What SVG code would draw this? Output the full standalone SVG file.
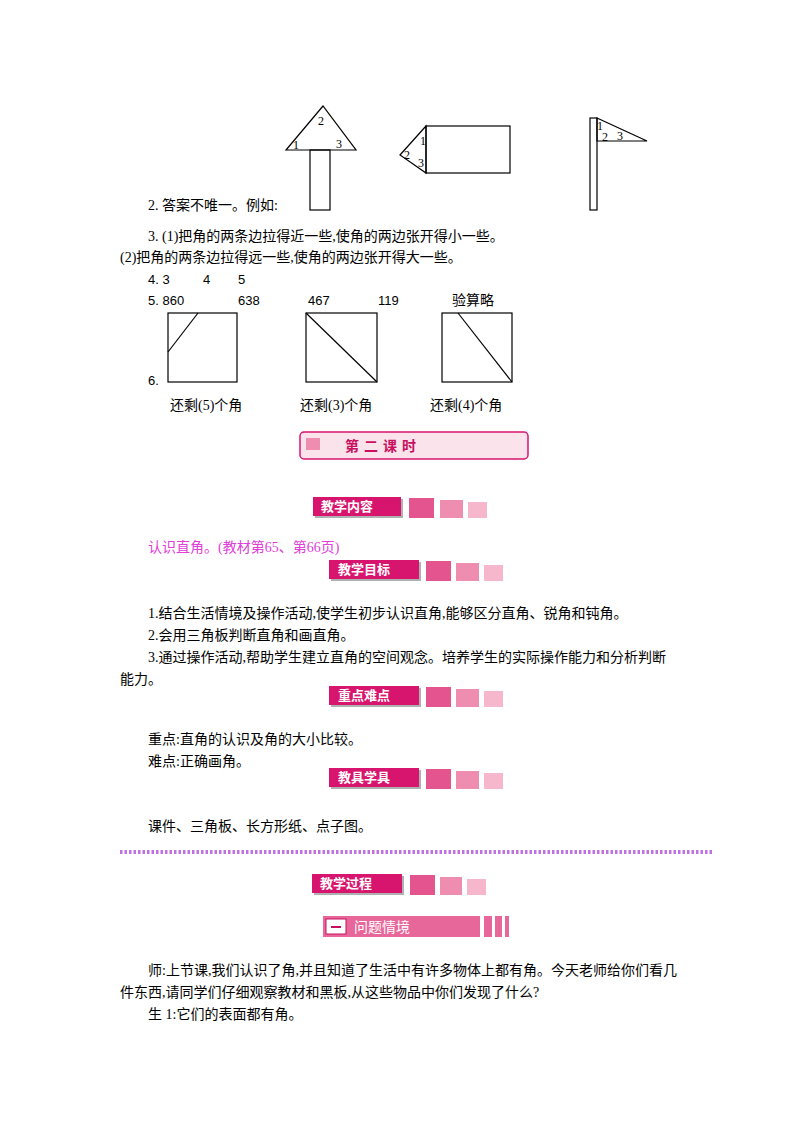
<svg xmlns="http://www.w3.org/2000/svg" width="800" height="1132" viewBox="0 0 800 1132">
<style>
text{font-family:"Liberation Serif","Noto Sans CJK SC",serif;font-size:14px;fill:#000}
.s{font-family:"Liberation Sans","Noto Sans CJK SC",sans-serif;font-size:13px}
.f{fill:none;stroke:#000;stroke-width:1.2}
.n{font-size:12px}
.hd{fill:#d8156e}
.ht{font-family:"Noto Sans CJK SC",sans-serif;font-size:13px;fill:#fff;font-weight:bold}
.q1{fill:#e45590}.q2{fill:#ef8db0}.q3{fill:#f6b7cd}
.sh{fill:#b0b0b0}
</style>
<rect width="800" height="1132" fill="#fff"/>
<g id="fig1">
<polygon class="f" points="323,106 286,150 356,150"/>
<rect class="f" x="310" y="150" width="20" height="60"/>
<text class="n" x="293" y="149">1</text><text class="n" x="318" y="125">2</text><text class="n" x="336" y="148">3</text>
</g>
<g id="fig2">
<polygon class="f" points="426,126 400,155 426,173"/>
<rect class="f" x="426" y="126" width="84" height="47"/>
<text class="n" x="420" y="145">1</text><text class="n" x="404" y="159">2</text><text class="n" x="418" y="167">3</text>
</g>
<g id="fig3">
<rect class="f" x="590" y="118" width="7" height="92"/>
<polygon class="f" points="597,118 647,141 597,141"/>
<text class="n" x="597" y="130">1</text><text class="n" x="602" y="141">2</text><text class="n" x="617" y="140">3</text>
</g>
<text x="148" y="210">2. 答案不唯一。例如:</text>
<text x="148" y="241">3. (1)把角的两条边拉得近一些,使角的两边张开得小一些。</text>
<text x="120" y="262">(2)把角的两条边拉得远一些,使角的两边张开得大一些。</text>
<text class="s" x="148" y="284">4. 3</text>
<text class="s" x="203" y="284">4</text>
<text class="s" x="238" y="284">5</text>
<text class="s" x="148" y="305">5. 860</text>
<text class="s" x="238" y="305">638</text>
<text class="s" x="308" y="305">467</text>
<text class="s" x="378" y="305">119</text>
<text x="452" y="305">验算略</text>
<g id="sq1"><rect class="f" x="168" y="313" width="69" height="69"/><line class="f" x1="198" y1="313" x2="168" y2="352"/></g>
<g id="sq2"><rect class="f" x="306" y="313" width="71" height="69"/><line class="f" x1="306" y1="313" x2="377" y2="382"/></g>
<g id="sq3"><rect class="f" x="442" y="313" width="70" height="69"/><line class="f" x1="458" y1="313" x2="512" y2="382"/></g>
<text class="s" x="148" y="385">6.</text>
<text x="170" y="410">还剩(5)个角</text>
<text x="300" y="410">还剩(3)个角</text>
<text x="430" y="410">还剩(4)个角</text>
<g id="banner">
<rect x="300" y="432" width="228" height="27" rx="4" fill="#fbe3ec" stroke="#d8156e" stroke-width="1.5"/>
<rect x="306" y="438" width="14" height="12" fill="#ef8db0"/>
<text x="345" y="451" font-family="Noto Sans CJK SC,sans-serif" font-size="16" font-weight="bold" fill="#c8105e" style="fill:#c8105e" letter-spacing="5">第二课时</text>
</g>
<g id="h1">
<rect class="sh" x="315" y="499" width="88" height="19"/><rect class="hd" x="313" y="497" width="88" height="19"/>
<text class="ht" x="321" y="511">教学内容</text>
<rect class="q1" x="409" y="498" width="25" height="20"/><rect class="q2" x="440" y="500" width="23" height="18"/><rect class="q3" x="468" y="502" width="19" height="16"/>
</g>
<text x="148" y="552" style="fill:#e040d8">认识直角。(教材第65、第66页)</text>
<g id="h2">
<rect class="sh" x="331" y="562" width="90" height="19"/><rect class="hd" x="329" y="560" width="90" height="19"/>
<text class="ht" x="338" y="574">教学目标</text>
<rect class="q1" x="426" y="561" width="25" height="20"/><rect class="q2" x="456" y="563" width="23" height="18"/><rect class="q3" x="484" y="565" width="19" height="16"/>
</g>
<text x="148" y="618">1.结合生活情境及操作活动,使学生初步认识直角,能够区分直角、锐角和钝角。</text>
<text x="148" y="640">2.会用三角板判断直角和画直角。</text>
<text x="148" y="662">3.通过操作活动,帮助学生建立直角的空间观念。培养学生的实际操作能力和分析判断</text>
<text x="120" y="684">能力。</text>
<g id="h3">
<rect class="sh" x="331" y="688" width="90" height="19"/><rect class="hd" x="329" y="686" width="90" height="19"/>
<text class="ht" x="338" y="700">重点难点</text>
<rect class="q1" x="426" y="687" width="25" height="20"/><rect class="q2" x="456" y="689" width="23" height="18"/><rect class="q3" x="484" y="691" width="19" height="16"/>
</g>
<text x="148" y="744">重点:直角的认识及角的大小比较。</text>
<text x="148" y="766">难点:正确画角。</text>
<g id="h4">
<rect class="sh" x="331" y="770" width="90" height="19"/><rect class="hd" x="329" y="768" width="90" height="19"/>
<text class="ht" x="338" y="782">教具学具</text>
<rect class="q1" x="426" y="769" width="25" height="20"/><rect class="q2" x="456" y="771" width="23" height="18"/><rect class="q3" x="484" y="773" width="19" height="16"/>
</g>
<text x="148" y="831">课件、三角板、长方形纸、点子图。</text>
<line x1="120" y1="852" x2="712" y2="852" stroke="#c070e0" stroke-width="4" stroke-dasharray="2.5,2"/>
<g id="h5">
<rect class="sh" x="314" y="876" width="90" height="19"/><rect class="hd" x="312" y="874" width="90" height="19"/>
<text class="ht" x="320" y="888">教学过程</text>
<rect class="q1" x="410" y="875" width="25" height="20"/><rect class="q2" x="440" y="877" width="22" height="18"/><rect class="q3" x="467" y="879" width="19" height="16"/>
</g>
<g id="bar">
<rect x="323" y="916" width="157" height="21" fill="#e8679a"/>
<rect x="326" y="919" width="20" height="15" fill="#fff" stroke="#c8105e"/>
<rect x="331" y="926" width="10" height="2" fill="#c8105e"/>
<text x="354" y="932" font-family="Noto Sans CJK SC,sans-serif" font-size="13" style="fill:#fff">问题情境</text>
<rect x="484" y="916" width="8" height="21" fill="#e8679a"/><rect x="495" y="916" width="7" height="21" fill="#e8679a"/><rect x="505" y="916" width="4" height="21" fill="#e8679a"/>
</g>
<text x="148" y="975">师:上节课,我们认识了角,并且知道了生活中有许多物体上都有角。今天老师给你们看几</text>
<text x="120" y="997">件东西,请同学们仔细观察教材和黑板,从这些物品中你们发现了什么?</text>
<text x="148" y="1019">生 1:它们的表面都有角。</text>
</svg>
